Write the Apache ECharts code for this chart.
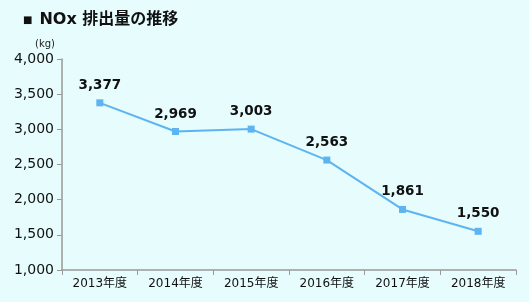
<!DOCTYPE html>
<html><head><meta charset="utf-8">
<script src="https://cdn.jsdelivr.net/npm/echarts@6/dist/echarts.min.js"></script>
<style>html,body{margin:0;padding:0;background:#E6FCFD}#c{width:529px;height:302px}</style>
</head><body><div id="c"></div>
<script>
const categories = ['2013年度','2014年度','2015年度','2016年度','2017年度','2018年度'];
const values = [3377, 2969, 3003, 2563, 1861, 1550];
const titleBullet = '■';
const titleText = 'NOx 排出量の推移';
const unitText = '(kg)';
const chart = echarts.init(document.getElementById('c'));
chart.setOption({
  backgroundColor: '#E6FCFD',
  animation: false,
  title: [{
    text: '{b|' + titleBullet + '} {t|' + titleText + '}', left: 18, top: 6,
    textStyle: {
      rich: {
        b: {fontFamily: 'DejaVu Sans', fontSize: 10, color: '#111', padding: [0, 2, 0, 0]},
        t: {fontFamily: 'DejaVu Sans, Noto Sans CJK JP', fontSize: 16, fontWeight: 'bold', color: '#111'}
      }
    }
  },{
    text: unitText, left: 30, top: 34,
    textStyle: {fontFamily: 'DejaVu Sans', fontSize: 10, fontWeight: 'normal', color: '#222'}
  }],
  grid: {left: 62, right: 13, top: 59, bottom: 32},
  xAxis: {
    type: 'category', data: categories, boundaryGap: true,
    axisLine: {lineStyle: {color: '#999', width: 1.5}},
    axisTick: {show: true, length: 5, lineStyle: {color: '#999'}},
    axisLabel: {color: '#111', fontSize: 12, fontFamily: 'DejaVu Sans, Noto Sans CJK JP', margin: 8}
  },
  yAxis: {
    type: 'value', min: 1000, max: 4000, interval: 500,
    axisLine: {show: true, lineStyle: {color: '#999', width: 1.5}},
    axisTick: {show: true, length: 5, lineStyle: {color: '#999'}},
    splitLine: {show: false},
    axisLabel: {color: '#111', fontSize: 14, fontFamily: 'DejaVu Sans', margin: 8,
      formatter: v => v.toLocaleString('en-US')}
  },
  series: [{
    type: 'line', data: values,
    symbol: 'rect', symbolSize: 7,
    lineStyle: {color: '#5DB4F0', width: 2},
    itemStyle: {color: '#5DB4F0'},
    label: {show: true, position: 'top', distance: 7, fontSize: 13.5, fontWeight: 'bold',
      fontFamily: 'DejaVu Sans', color: '#111', formatter: p => p.value.toLocaleString('en-US')}
  }]
});
</script></body></html>
